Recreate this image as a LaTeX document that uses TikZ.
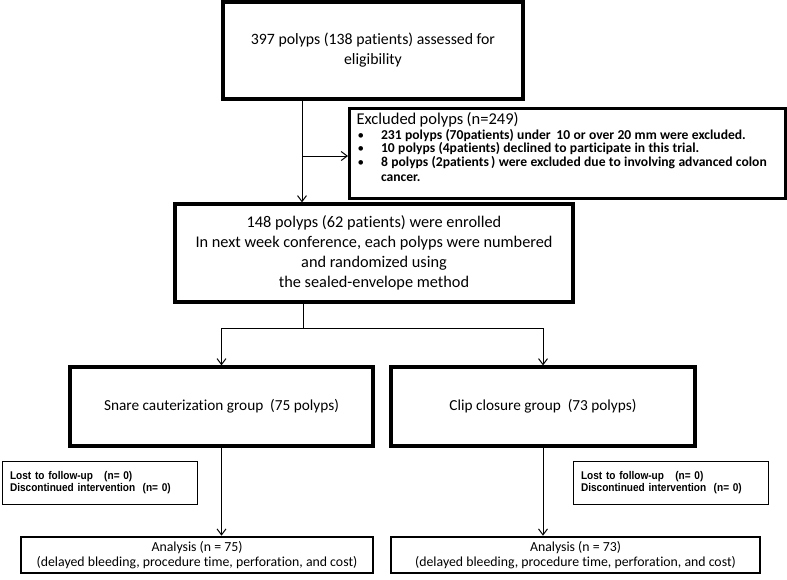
\documentclass[tikz,border=0pt]{standalone}
\usepackage{fontspec}
\setmainfont{Carlito}[Ligatures=CommonOff]
\newfontfamily\arialfont[FakeStretch=0.9]{Liberation Sans}
\usetikzlibrary{arrows.meta,positioning}
\tikzset{heavybox/.style={draw, line width=3.2pt, align=center, inner sep=0pt},
    lightbox/.style={draw, line width=1pt, inner sep=0pt},
    arr/.style={line width=1pt, -{Straight Barb[length=6pt,width=9pt]}},
    link/.style={line width=1pt}}
\newcommand{\bul}{\fontsize{13}{14.6}\selectfont\textbullet}
\newcommand{\bultext}{\fontsize{13.6}{14.6}\selectfont\bfseries}

\begin{document}
\begin{tikzpicture}[x=1pt, y=-1pt]
    \useasboundingbox (0,0) rectangle (787,579);
    % main chain
    \node[heavybox, minimum width=300pt, minimum height=97pt,
          font=\fontsize{15.8}{20}\selectfont] (assess) at (373,50.5)
         {397 polyps (138 patients) assessed for\\eligibility};
    \node[heavybox, minimum width=436pt, minimum height=90pt, anchor=north west,
          align=left, text width=436pt] (excl) at (348,107)
         {\begin{tabular}{@{\hspace{8pt}}l@{\hspace{17pt}}p{395pt}@{}}
          \multicolumn{2}{@{\hspace{7pt}}l}{\fontsize{16.5}{17}\selectfont Excluded polyps (n=249)}\\[1pt]
          \bul & \bultext 231 polyps (70patients) under \,10 or over 20 mm were excluded.\\
          \bul & \bultext 10 polyps (4patients) declined to participate in this trial.\\
          \bul & \bultext 8 polyps (2patients\,) were excluded due to involving advanced colon cancer.\\[10pt]
          \end{tabular}};
    \node[heavybox, minimum width=398pt, minimum height=98pt,
          font=\fontsize{16.3}{19.8}\selectfont] (enrol) at (374,253)
         {148 polyps (62 patients) were enrolled\\
          In next week conference, each polyps were numbered\\
          and randomized using\\
          the sealed-envelope method};
    % groups
    \node[heavybox, minimum width=303pt, minimum height=79pt,
          font=\fontsize{15.3}{18}\selectfont] (snare) at (221.5,406.5)
         {Snare cauterization group \ (75 polyps)};
    \node[heavybox, minimum width=304pt, minimum height=79pt,
          font=\fontsize{15.3}{18}\selectfont] (clip) at (543,406.5)
         {Clip closure group \ (73 polyps)};
    \node[lightbox, minimum width=195pt, minimum height=43pt, align=left,
          text width=179pt, font=\arialfont\bfseries\fontsize{11.2}{12}\selectfont] (lostL) at (99.5,482.5)
         {Lost to follow-up \ \ (n= 0)\\Discontinued intervention \ (n= 0)};
    \node[lightbox, minimum width=195pt, minimum height=43pt, align=left,
          text width=179pt, font=\arialfont\bfseries\fontsize{11.2}{12}\selectfont] (lostR) at (670.5,482.5)
         {Lost to follow-up \ \ (n= 0)\\Discontinued intervention \ (n= 0)};
    \node[heavybox, line width=2.6pt, minimum width=352pt, minimum height=36pt,
          font=\fontsize{13.8}{15}\selectfont] (anaL) at (197,555)
         {Analysis (n = 75)\\(delayed bleeding, procedure time, perforation, and cost)};
    \node[heavybox, line width=2.6pt, minimum width=369pt, minimum height=36pt,
          font=\fontsize{13.8}{15}\selectfont] (anaR) at (575.5,555)
         {Analysis (n = 73)\\(delayed bleeding, procedure time, perforation, and cost)};
    % connectors
    \coordinate (trunk) at (302,156);
    \coordinate (split) at (303,328);
    \draw[arr] (assess.south -| trunk) -- (enrol.north -| trunk);
    \draw[arr] (trunk) -- (excl.west |- trunk);
    \draw[link] (enrol.south -| split) -- (split);
    \draw[link] (snare.north |- split) -- (clip.north |- split);
    \draw[arr] (snare.north |- split) -- (snare.north);
    \draw[arr] (clip.north |- split) -- (clip.north);
    \draw[arr] (snare.south) -- (anaL.north -| snare.south);
    \draw[arr] (clip.south) -- (anaR.north -| clip.south);
\end{tikzpicture}
\end{document}
